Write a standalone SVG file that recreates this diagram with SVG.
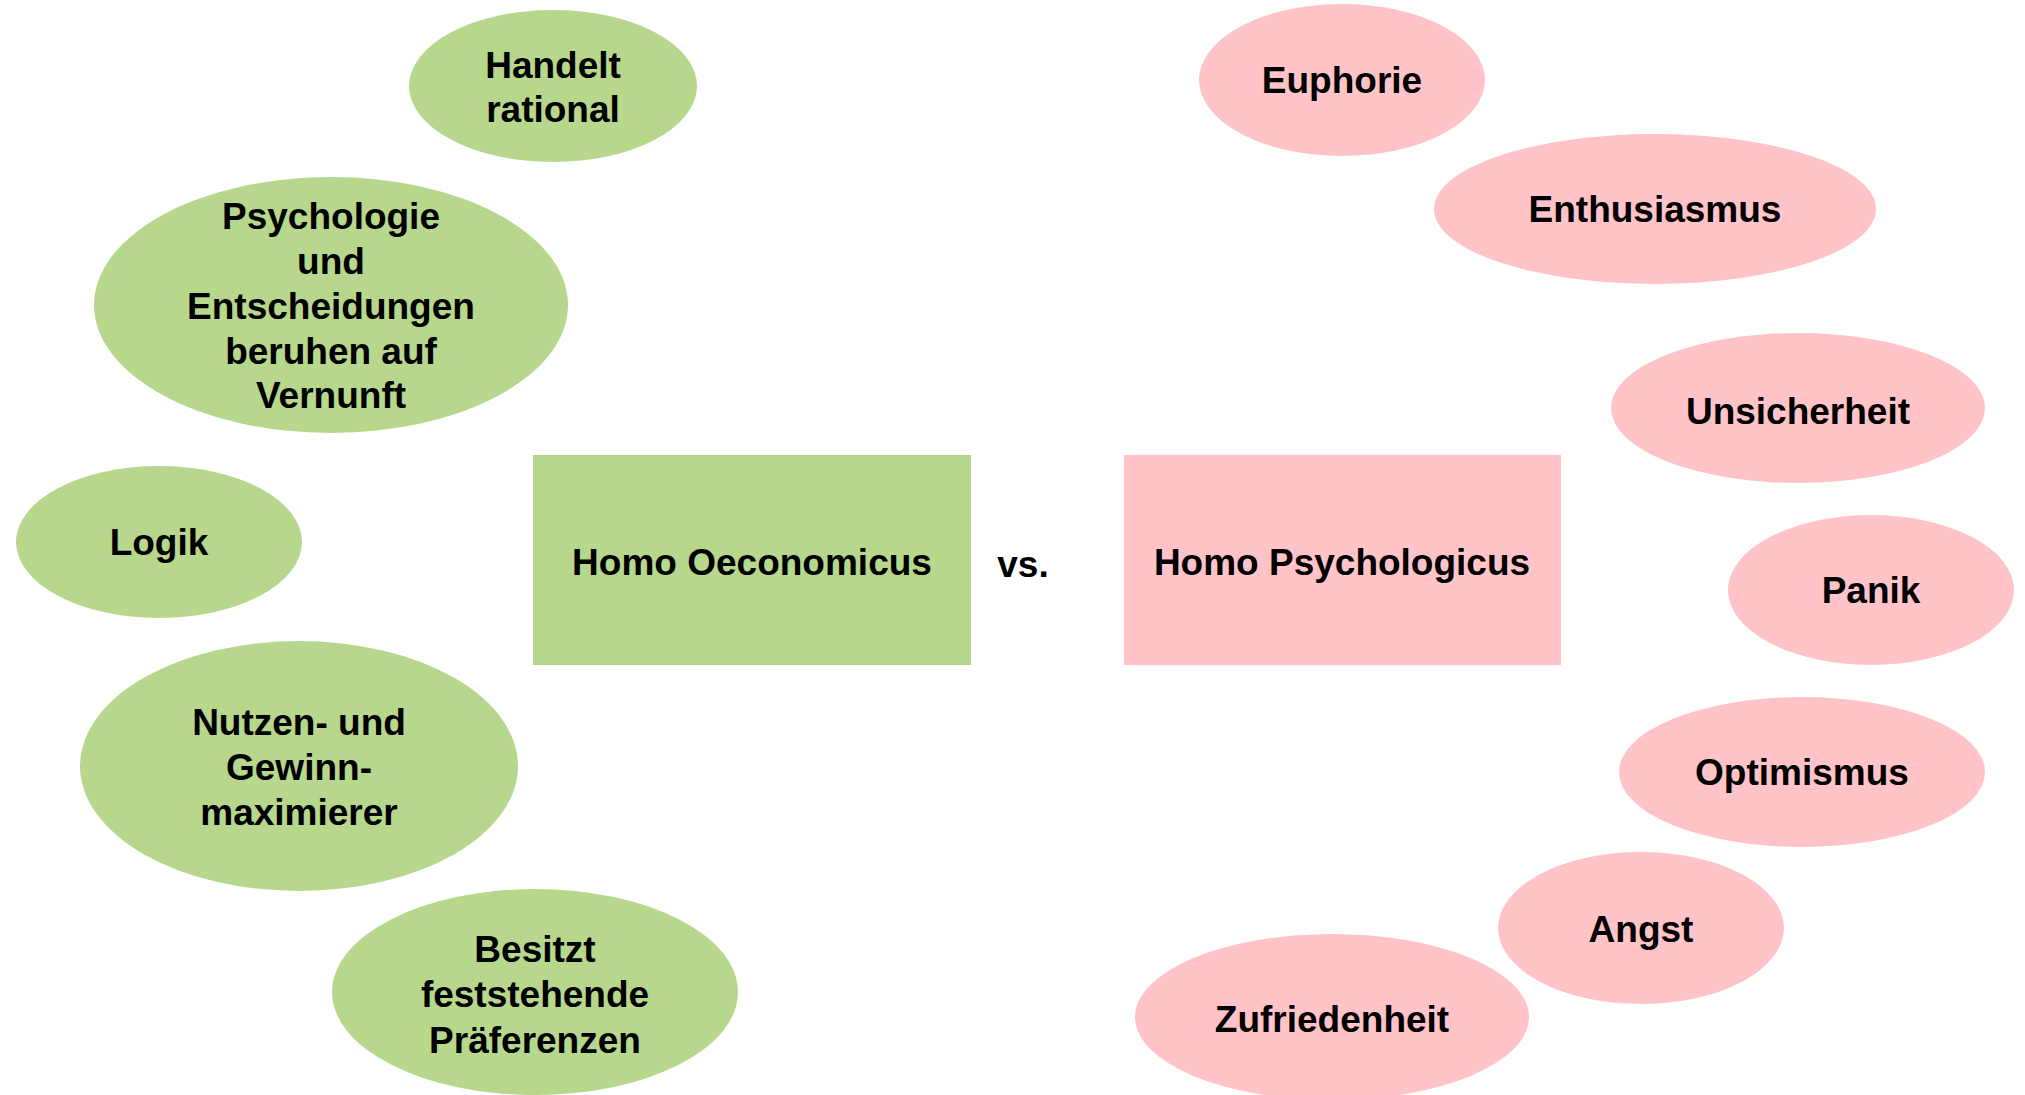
<svg xmlns="http://www.w3.org/2000/svg" width="2025" height="1095" viewBox="0 0 2025 1095">
<style>
.g{fill:#b6d78c}
.p{fill:#ffc3c8}
text{font-family:"Liberation Sans",Arial,sans-serif;font-weight:bold;font-size:37px;fill:#000;text-anchor:middle}
</style>
<rect width="2025" height="1095" fill="#fff"/>
<g id="connectors"></g>
<g id="n-handelt"><ellipse class="g" cx="553" cy="86" rx="144" ry="76"/><text x="553" y="78">Handelt</text><text x="553" y="122">rational</text></g>
<g id="n-psychologie"><ellipse class="g" cx="331" cy="305" rx="237" ry="128"/><text x="331" y="229">Psychologie</text><text x="331" y="274">und</text><text x="331" y="319">Entscheidungen</text><text x="331" y="364">beruhen auf</text><text x="331" y="408">Vernunft</text></g>
<g id="n-logik"><ellipse class="g" cx="159" cy="542" rx="143" ry="76"/><text x="159" y="555">Logik</text></g>
<g id="n-nutzen"><ellipse class="g" cx="299" cy="766" rx="219" ry="125"/><text x="299" y="735">Nutzen- und</text><text x="299" y="780">Gewinn-</text><text x="299" y="825">maximierer</text></g>
<g id="n-besitzt"><ellipse class="g" cx="535" cy="992" rx="203" ry="103"/><text x="535" y="962">Besitzt</text><text x="535" y="1007">feststehende</text><text x="535" y="1053">Präferenzen</text></g>
<g id="n-oeconomicus"><rect class="g" x="533" y="455" width="438" height="210"/><text x="752" y="575">Homo Oeconomicus</text></g>
<g id="n-vs"><text x="1023" y="577">vs.</text></g>
<g id="n-psychologicus"><rect class="p" x="1124" y="455" width="437" height="210"/><text x="1342" y="575">Homo Psychologicus</text></g>
<g id="n-euphorie"><ellipse class="p" cx="1342" cy="80" rx="143" ry="76"/><text x="1342" y="93">Euphorie</text></g>
<g id="n-enthusiasmus"><ellipse class="p" cx="1655" cy="209" rx="221" ry="75"/><text x="1655" y="222">Enthusiasmus</text></g>
<g id="n-unsicherheit"><ellipse class="p" cx="1798" cy="408" rx="187" ry="75"/><text x="1798" y="424">Unsicherheit</text></g>
<g id="n-panik"><ellipse class="p" cx="1871" cy="590" rx="143" ry="75"/><text x="1871" y="603">Panik</text></g>
<g id="n-optimismus"><ellipse class="p" cx="1802" cy="772" rx="183" ry="75"/><text x="1802" y="785">Optimismus</text></g>
<g id="n-angst"><ellipse class="p" cx="1641" cy="928" rx="143" ry="76"/><text x="1641" y="942">Angst</text></g>
<g id="n-zufriedenheit"><ellipse class="p" cx="1332" cy="1017" rx="197" ry="83"/><text x="1332" y="1032">Zufriedenheit</text></g>
</svg>
